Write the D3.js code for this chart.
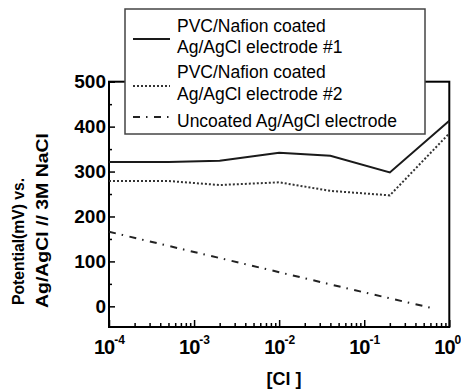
<!DOCTYPE html>
<html>
<head>
<meta charset="utf-8">
<script src="https://cdn.jsdelivr.net/npm/d3@7"></script>
<style>
  body { margin: 0; background: #fff; }
  svg { display: block; font-family: "Liberation Sans", Arial, sans-serif; }
</style>
</head>
<body>
<div id="canvas"></div>
<script>
// chloride concentration (M) for each series
var xCoated = [1e-4, 5e-4, 2e-3, 1e-2, 4e-2, 2e-1, 1];
var coated1 = [321, 321, 324, 342, 335, 298, 413];
var coated2 = [279, 279, 270, 276, 257, 247, 385];
var xUncoated = [1e-4, 1e-3, 1e-2, 1e-1, 0.63];
var uncoated = [166, 121, 76, 31, -4];

var yTicks = [0, 100, 200, 300, 400, 500];
var xExp = [-4, -3, -2, -1, 0];
var legendLabels = [
  ["PVC/Nafion coated", "Ag/AgCl electrode #1"],
  ["PVC/Nafion coated", "Ag/AgCl electrode #2"],
  ["Uncoated Ag/AgCl electrode"]
];

var W = 461, H = 392;
var svg = d3.select("#canvas").append("svg")
    .attr("width", W)
    .attr("height", H);

var x = d3.scaleLog().domain([1e-4, 1]).range([109, 449.3]);
var y = d3.scaleLinear().domain([-46, 500]).range([327, 81.7]);

// frame
svg.append("rect")
    .attr("x", x.range()[0]).attr("y", y(500))
    .attr("width", x.range()[1] - x.range()[0])
    .attr("height", y(-46) - y(500))
    .attr("fill", "none").attr("stroke", "#000").attr("stroke-width", 2);

// y axis (inward ticks)
var minorY = d3.range(-0, 500, 50).filter(function(d){ return d % 100 !== 0; });
svg.append("g")
    .attr("transform", "translate(" + x.range()[0] + ",0)")
    .call(d3.axisLeft(y).tickValues(minorY).tickSize(-3).tickFormat(""))
    .call(function(g){ g.select(".domain").remove(); })
    .selectAll("line").attr("stroke-width", 1.5);

var yAxis = svg.append("g")
    .attr("transform", "translate(" + x.range()[0] + ",0)")
    .call(d3.axisLeft(y).tickValues(yTicks).tickSize(-6).tickPadding(3));
yAxis.select(".domain").remove();
yAxis.selectAll("line").attr("stroke-width", 1.5);
yAxis.selectAll("text")
    .attr("font-size", 19).attr("font-weight", "bold")
    .attr("font-family", "Liberation Sans, Arial, sans-serif")
    .attr("fill", "#000");

// x axis (log, inward ticks)
var minorX = [];
xExp.slice(0, -1).forEach(function(e){
  for (var k = 2; k <= 9; k++) minorX.push(k * Math.pow(10, e));
});
svg.append("g")
    .attr("transform", "translate(0," + y(-46) + ")")
    .call(d3.axisBottom(x).tickValues(minorX).tickSize(-4).tickFormat(""))
    .call(function(g){ g.select(".domain").remove(); })
    .selectAll("line").attr("stroke-width", 1.5);

var xAxis = svg.append("g")
    .attr("transform", "translate(0," + y(-46) + ")")
    .call(d3.axisBottom(x).tickValues(xExp.map(function(e){ return Math.pow(10, e); }))
      .tickSize(-7).tickFormat(""));
xAxis.select(".domain").remove();
xAxis.selectAll("line").attr("stroke-width", 1.5);

var xl = svg.append("g").selectAll("text")
    .data(xExp)
  .enter().append("text")
    .attr("x", function(d){ return x(Math.pow(10, d)) - 15; })
    .attr("y", 354)
    .attr("font-weight", "bold")
    .attr("fill", "#000");
xl.append("tspan").attr("font-size", 20).attr("letter-spacing", -1).text("10");
xl.append("tspan").attr("font-size", 12).attr("dy", -10).text(function(d){ return d; });

// axis titles
svg.append("text")
    .attr("x", 284).attr("y", 385)
    .attr("text-anchor", "middle")
    .attr("font-size", 18).attr("font-weight", "bold")
    .text("[Cl ]");

svg.append("text")
    .attr("transform", "translate(23.5,241.5) rotate(-90)")
    .attr("text-anchor", "middle")
    .attr("font-size", 16).attr("font-weight", "bold")
    .attr("textLength", 127).attr("lengthAdjust", "spacingAndGlyphs")
    .text("Potential(mV) vs.");
svg.append("text")
    .attr("transform", "translate(47.5,220.5) rotate(-90)")
    .attr("text-anchor", "middle")
    .attr("font-size", 16).attr("font-weight", "bold")
    .attr("textLength", 175).attr("lengthAdjust", "spacingAndGlyphs")
    .text("Ag/AgCl // 3M NaCl");

// series
var styles = [
  {dash: null, color: "#1a1a1a"},
  {dash: "2,2", color: "#333"},
  {dash: "7,6,1.5,6.5", color: "#222"}
];
var series = [
  {xs: xCoated, ys: coated1},
  {xs: xCoated, ys: coated2},
  {xs: xUncoated, ys: uncoated}
];
var line = d3.line()
    .x(function(d){ return x(d[0]); })
    .y(function(d){ return y(d[1]); });

series.forEach(function(s, i){
  svg.append("path")
      .datum(d3.zip(s.xs, s.ys))
      .attr("d", line)
      .attr("fill", "none")
      .attr("stroke", styles[i].color)
      .attr("stroke-width", 2)
      .attr("stroke-dasharray", styles[i].dash);
});

// legend
var lg = svg.append("g");
lg.append("rect")
    .attr("x", 125).attr("y", 9).attr("width", 300).attr("height", 125)
    .attr("fill", "#fff").attr("stroke", "#444").attr("stroke-width", 1.5);

var sampleY = [39, 86, 117];
var textY = [[31.5, 52.5], [78, 99.5], [127]];
legendLabels.forEach(function(lines, i){
  lg.append("line")
      .attr("x1", 133).attr("x2", 170)
      .attr("y1", sampleY[i]).attr("y2", sampleY[i])
      .attr("stroke", styles[i].color)
      .attr("stroke-width", 2)
      .attr("stroke-dasharray", styles[i].dash);
  lines.forEach(function(t, j){
    lg.append("text")
        .attr("x", 177).attr("y", textY[i][j])
        .attr("font-size", 17.5)
        .attr("fill", "#000")
        .text(t);
  });
});
</script>
</body>
</html>
